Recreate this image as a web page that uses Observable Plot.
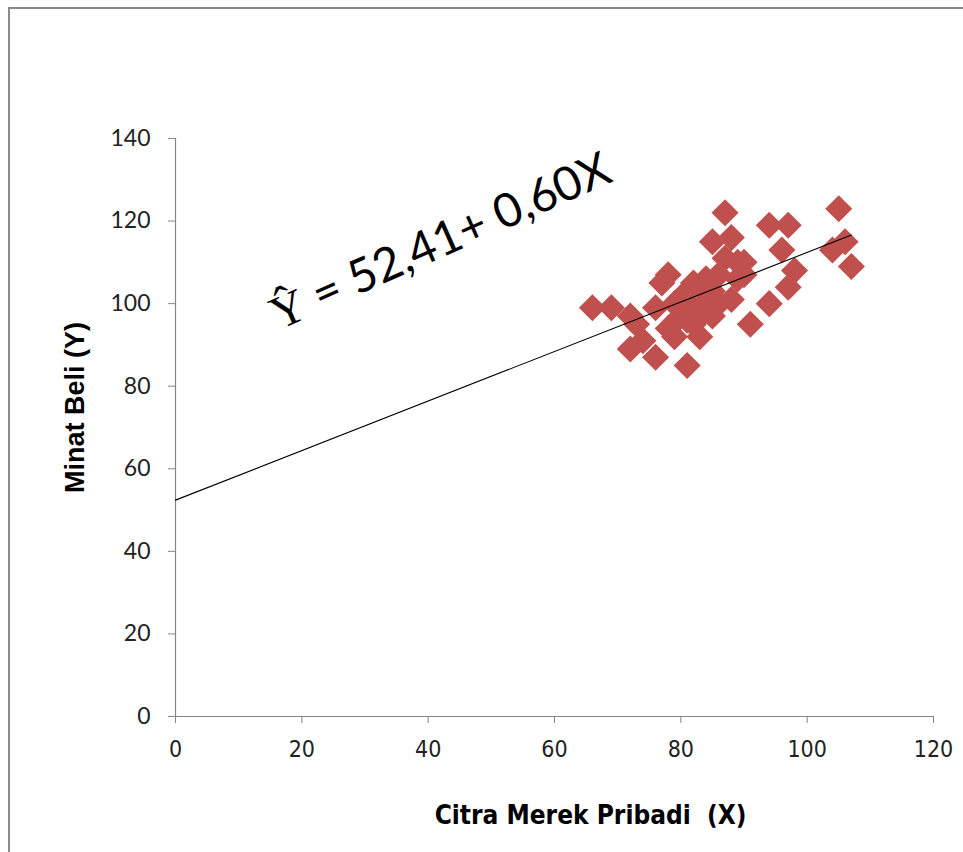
<!DOCTYPE html>
<html><head><meta charset="utf-8">
<script src="https://cdn.jsdelivr.net/npm/d3@7"></script>
<script src="https://cdn.jsdelivr.net/npm/@observablehq/plot@0.6"></script>
<style>
html,body{margin:0;padding:0;background:#fff;overflow:hidden;}
#wrap{position:relative;width:963px;height:852px;}
#frame{position:absolute;left:8px;top:7px;width:1000px;height:900px;border-top:2px solid #8a8a8a;border-left:2px solid #8a8a8a;pointer-events:none;}
</style></head><body>
<div id="wrap"><div id="frame"></div></div>
<script>
// Data
const citraX = [66,69,72,73,72,74,76,81,77,78,76,78,79,80,80,81,82,82,83,83,84,84,85,85,86,85,87,88,87,89,89,90,91,88,94,94,97,96,98,97,105,104,106,107,83,86,81,79,90,82];
const minatY = [99,99,97,95,89,91,87,85,105,107,99,94,92,97,101,103,99,95,92,104,106,100,97,103,107,115,122,116,111,110,106,107,95,101,100,119,119,113,108,104,123,113,115,109,97,100,96,100,110,105];
const intercept = 52.41;
const slope = 0.60;
const xTicks = [0,20,40,60,80,100,120];
const yTicks = [0,20,40,60,80,100,120,140];
const xLabel = "Citra Merek Pribadi  (X)";
const yLabel = "Minat Beli (Y)";
const eqHat = "Ŷ";
const eqRest = " = 52,41+ 0,60X";
const eqAnchor = [{x: 15.4, y: 96.9}];

const points = citraX.map((x, i) => ({x, y: minatY[i]}));
const xMax = d3.max(citraX);
const regLine = [0, xMax].map(x => ({x, y: intercept + slope * x}));

const chart = Plot.plot({
  width: 963, height: 852,
  marginLeft: 175, marginRight: 30, marginTop: 138, marginBottom: 136,
  style: {background: "transparent", overflow: "visible"},
  x: {domain: [0, 120], ticks: xTicks, label: null},
  y: {domain: [0, 140], ticks: yTicks, label: null},
  marks: [
    Plot.axisY({ticks: yTicks, tickSize: 7, tickPadding: 18, stroke: "#868686", fill: "#222", fontSize: 23, fontFamily: "Lato", label: null, tickFormat: d => String(d)}),
    Plot.axisX({ticks: xTicks, tickSize: 7, tickPadding: 17, stroke: "#868686", fill: "#222", fontSize: 23, fontFamily: "'DejaVu Sans Condensed', Lato", label: null, tickFormat: d => String(d)}),
    Plot.ruleX([0], {stroke: "#868686", strokeWidth: 1.2}),
    Plot.ruleY([0], {stroke: "#868686", strokeWidth: 1.2}),
    Plot.dot(points, {x: "x", y: "y", symbol: "diamond2", r: 12.2, fill: "#C0504D", stroke: "none"}),
    Plot.line(regLine, {x: "x", y: "y", stroke: "#000", strokeWidth: 1.1}),
    Plot.text(eqAnchor, {x: "x", y: "y", text: () => eqHat + eqRest, textAnchor: "start", lineAnchor: "middle", rotate: -24, fontSize: 47, fontFamily: "Lato", fill: "#000"}),
    Plot.text([xLabel], {frameAnchor: "bottom", textAnchor: "middle", dx: 36, dy: 99, lineAnchor: "middle", fontSize: 26, fontWeight: "bold", fontFamily: "'DejaVu Sans Condensed', Lato", fill: "#000"}),
    Plot.text([yLabel], {frameAnchor: "left", textAnchor: "middle", dx: -100, dy: -20, rotate: -90, lineAnchor: "middle", fontSize: 27, fontWeight: "bold", fontFamily: "Liberation Sans", fill: "#000"})
  ]
});

d3.select(chart).selectAll("text").filter(function() { return this.textContent === eqHat + eqRest; })
  .each(function() {
    const t = d3.select(this);
    t.text(null);
    t.append("tspan").attr("font-family", "Liberation Serif").text(eqHat);
    t.append("tspan").text(eqRest);
  });

document.getElementById("wrap").insertBefore(chart, document.getElementById("frame"));
chart.style.position = "absolute";
chart.style.left = "0px";
chart.style.top = "0px";
</script>
</body></html>
